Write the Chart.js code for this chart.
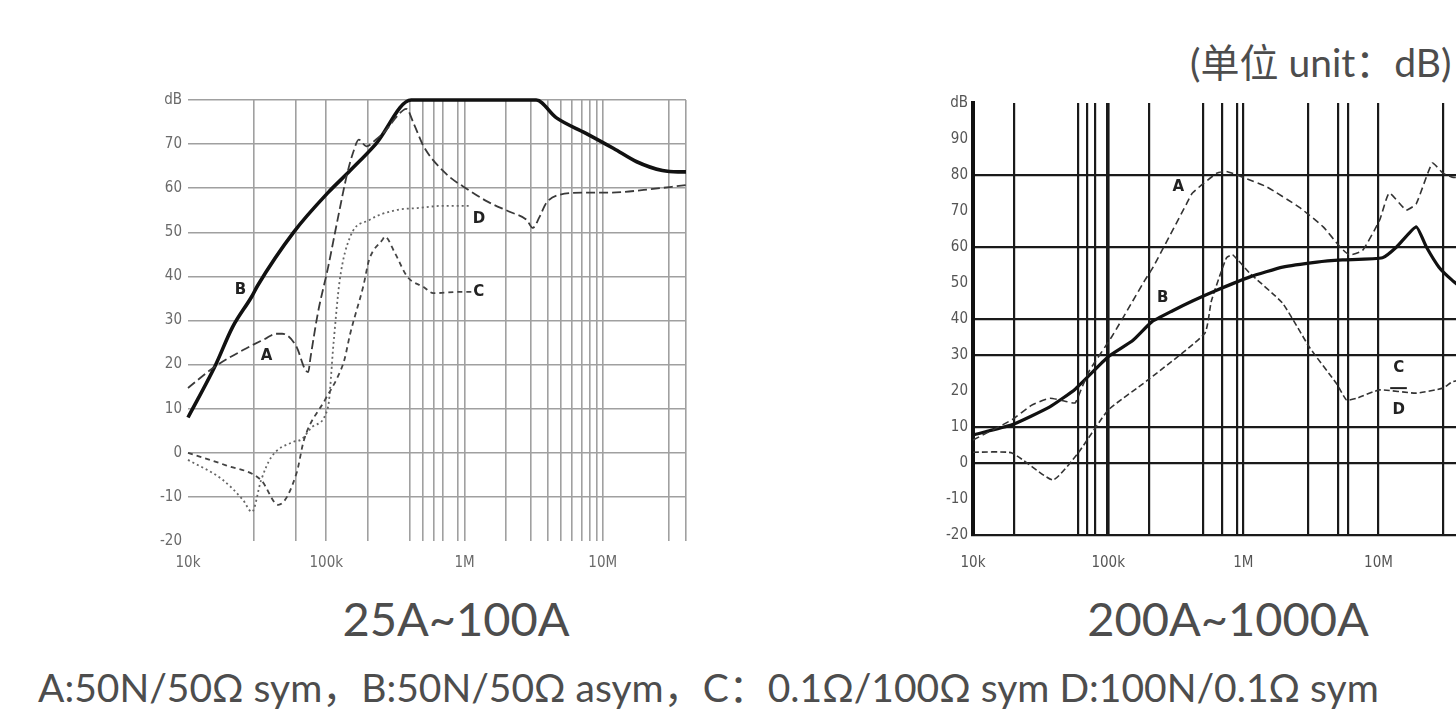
<!DOCTYPE html>
<html>
<head>
<meta charset="utf-8">
<script src="https://cdn.jsdelivr.net/npm/chart.js@4.4.1/dist/chart.umd.min.js"></script>
<style>
  body { margin: 0; width: 1456px; height: 710px; overflow: hidden; background: #fff; position: relative; }
  .txt { position: absolute; font-family: Lato, "Noto Sans CJK SC", sans-serif; color: #4d4d4d; line-height: 1; white-space: nowrap; }
  canvas { position: absolute; }
</style>
</head>
<body>
<div class="txt" style="left:1190px; top:43px; font-size:39px;">(单位 unit：dB)</div>
<div class="txt" style="left:256px; width:400px; top:595px; font-size:47px; text-align:center;">25A~100A</div>
<div class="txt" style="left:1028px; width:400px; top:595px; font-size:47px; text-align:center;">200A~1000A</div>
<div class="txt" style="left:38px; top:668px; font-size:39px;">A:50N/50Ω sym，B:50N/50Ω asym，C：0.1Ω/100Ω sym D:100N/0.1Ω sym</div>

<canvas id="leftChart" width="570" height="500" style="left:130px; top:85px;"></canvas>
<canvas id="rightChart" width="583" height="500" style="left:900px; top:88px;"></canvas>

<script>
// frequency axis (Hz) and labels
var xTickLabels = { 10000: "10k", 100000: "100k", 1000000: "1M", 10000000: "10M" };
var leftXTicks = [1e4, 3e4, 6e4, 1e5, 2e5, 4e5, 5e5, 6e5, 7e5, 9e5, 1e6, 2e6, 3e6, 4e6, 5e6, 6e6, 7e6, 8e6, 9e6, 1e7, 3e7, 4e7];
var rightXTicks = [1e4, 2e4, 6e4, 7e4, 8e4, 1e5, 2e5, 5e5, 7e5, 9e5, 1e6, 3e6, 5e6, 6e6, 1e7, 3e7];
var rightGridRows = [80, 60, 40, 30, 10, 0, -20];

// 25A~100A
var leftAFreq = [1e4, 15.6e3, 25e3, 37e3, 43e3, 48e3, 61e3, 70e3, 74e3, 77e3, 87e3, 103e3, 121e3, 142e3, 158e3, 172e3, 195e3, 228e3, 268e3, 329e3, 379e3, 431e3, 506e3, 728e3, 1.07e6, 1.48e6, 2.14e6, 2.82e6, 3.11e6, 3.49e6, 3.9e6, 4.82e6, 7.5e6, 11.4e6, 19.8e6, 4e7];
var leftAValues = [14.7, 19.5, 23.3, 26, 27, 27, 24, 19, 18.3, 21.7, 31.7, 42, 53, 63.4, 68.5, 71, 69.5, 71, 73, 76.5, 78, 74.5, 69.5, 63.4, 59.6, 56.9, 54.6, 52.8, 51, 53.5, 56.6, 58.5, 59, 59, 59.6, 60.7];
var leftBFreq = [1e4, 15.6e3, 21e3, 29e3, 32e3, 58e3, 103e3, 149e3, 228e3, 411e3, 3.3e6, 4.6e6, 7.5e6, 12e6, 17.6e6, 27e6, 35e6, 4e7];
var leftBValues = [8, 19.5, 28.5, 35.5, 38, 50, 59, 64, 70, 80, 80, 76, 72.5, 69, 66, 64, 63.7, 63.7];
var leftCFreq = [1e4, 18.6e3, 33.8e3, 45e3, 61e3, 69e3, 98e3, 121e3, 135e3, 149e3, 186e3, 204e3, 255e3, 265e3, 314e3, 386e3, 506e3, 593e3, 955e3, 1.12e6];
var leftCValues = [0, -2.8, -6.2, -11.8, -4.6, 2.9, 12, 17.2, 21, 27, 38, 43.7, 48.3, 49, 45.3, 39.9, 37.6, 36.2, 36.5, 36.5];
var leftDFreq = [1e4, 17.6e3, 25e3, 29e3, 33.8e3, 40e3, 58e3, 66e3, 80e3, 103e3, 113e3, 125e3, 149e3, 205e3, 315e3, 455e3, 700e3, 1.1e6];
var leftDValues = [-1.6, -6, -10.7, -13.4, -6.2, -1, 2.5, 3, 6, 10.4, 25, 39, 49, 52.8, 55, 55.5, 56, 56];

// 200A~1000A
var rightAFreq = [1e4, 19.4e3, 27e3, 37e3, 50e3, 57e3, 64e3, 73e3, 106e3, 152e3, 187e3, 215e3, 380e3, 420e3, 635e3, 750e3, 990e3, 1.49e6, 2.6e6, 3.9e6, 5.2e6, 6.1e6, 7.6e6, 10.2e6, 12e6, 16e6, 19e6, 25e6, 30e6, 35e6, 5e7];
var rightAValues = [6.4, 12, 16, 18, 17, 16.7, 21, 25.8, 35, 45, 50.8, 54.4, 72, 75, 80.5, 81, 79.4, 76.7, 71, 65.6, 60, 57.8, 59, 67.5, 75, 70.3, 72, 83.3, 80.5, 79.4, 79];
var rightBFreq = [1e4, 19.4e3, 37e3, 57e3, 100e3, 152e3, 210e3, 300e3, 420e3, 635e3, 1.12e6, 1.95e6, 3.5e6, 5.4e6, 10.7e6, 13.6e6, 19e6, 22.6e6, 28e6, 35e6, 5e7];
var rightBValues = [7.8, 10.6, 15.6, 20.5, 29.5, 34, 39.2, 42.3, 45, 48, 51.7, 54.4, 55.8, 56.4, 57, 60, 65.6, 60, 54.4, 50.8, 46];
var rightCDFreq = [1e4, 19.4e3, 39e3, 60e3, 100e3, 196e3, 518e3, 580e3, 750e3, 835e3, 1.11e6, 1.95e6, 3.1e6, 4.9e6, 5.8e6, 6.9e6, 10.2e6, 19e6, 30e6, 35e6, 5e7];
var rightCDValues = [3, 2.8, -4.7, 2.8, 14.7, 23, 36, 45, 57, 57.8, 52.8, 44.4, 32, 22, 17.5, 18, 20.3, 19.4, 20.8, 22.5, 24];

// curve letters: [text, freq, dB]
var leftTags = [["A", 37e3, 22], ["B", 24e3, 37], ["C", 1.27e6, 36.5], ["D", 1.27e6, 53]];
var rightTags = [["A", 330e3, 76.5], ["B", 253e3, 45.8], ["C", 14.1e6, 26.4], ["D", 14.1e6, 14.7]];

var tickFont = { family: "'Liberation Sans Narrow', 'DejaVu Sans Condensed', 'Liberation Sans', sans-serif", size: 15 };

function points(freq, values) {
    var out = [];
    for (var i = 0; i < freq.length; i++) {
        out.push({ x: freq[i], y: values[i] });
    }
    return out;
}

function tagPlugin(tags, rule) {
    return {
        id: "curveTags",
        afterDatasetsDraw: function (chart) {
            var ctx = chart.ctx;
            var sx = chart.scales.x, sy = chart.scales.y;
            ctx.save();
            ctx.font = "bold 15px 'DejaVu Sans'";
            ctx.fillStyle = "#222";
            ctx.textAlign = "center";
            ctx.textBaseline = "middle";
            tags.forEach(function (t) {
                ctx.fillText(t[0], sx.getPixelForValue(t[1]), sy.getPixelForValue(t[2]));
            });
            if (rule) {
                // little bar between C and D
                ctx.strokeStyle = "#222";
                ctx.lineWidth = 2;
                ctx.beginPath();
                ctx.moveTo(sx.getPixelForValue(rule[0]), sy.getPixelForValue(rule[2]));
                ctx.lineTo(sx.getPixelForValue(rule[1]), sy.getPixelForValue(rule[2]));
                ctx.stroke();
            }
            ctx.restore();
        }
    };
}

var left = new Chart(document.getElementById("leftChart").getContext("2d"), {
    type: "line",
    data: {
        datasets: [
            { label: "A", data: points(leftAFreq, leftAValues), borderColor: "#3a3a3a", borderWidth: 1.8, borderDash: [9, 4] },
            { label: "B", data: points(leftBFreq, leftBValues), borderColor: "#111", borderWidth: 3.6 },
            { label: "C", data: points(leftCFreq, leftCValues), borderColor: "#444", borderWidth: 1.8, borderDash: [5, 4] },
            { label: "D", data: points(leftDFreq, leftDValues), borderColor: "#666", borderWidth: 1.8, borderDash: [2, 3] }
        ]
    },
    options: {
        responsive: false,
        animation: false,
        layout: { padding: { top: 15, right: 14, bottom: 0, left: 0 } },
        elements: { point: { radius: 0 }, line: { cubicInterpolationMode: "monotone" } },
        datasets: { line: { clip: 8 } },
        scales: {
            x: {
                type: "logarithmic", min: 1e4, max: 4e7,
                afterBuildTicks: function (scale) { scale.ticks = leftXTicks.map(function (v) { return { value: v }; }); },
                afterFit: function (scale) { scale.height = 44; },
                ticks: { autoSkip: false, maxRotation: 0, padding: 13, color: "#6a6a6a", font: tickFont,
                    callback: function (v) { return xTickLabels[v] || ""; } },
                grid: { drawTicks: false, lineWidth: 1.6, color: function (c) { return c.tick && c.tick.value === 1e4 ? "rgba(0,0,0,0)" : "#a0a0a0"; } },
                border: { display: false }
            },
            y: {
                min: -20, max: 80,
                afterFit: function (scale) { scale.width = 58; },
                ticks: { stepSize: 10, autoSkip: false, padding: 6, color: "#6a6a6a", font: tickFont,
                    callback: function (v) { return v === 80 ? "dB" : v; } },
                grid: { drawTicks: false, lineWidth: 1.6, color: function (c) { return c.tick && c.tick.value === -20 ? "rgba(0,0,0,0)" : "#a0a0a0"; } },
                border: { display: false }
            }
        },
        plugins: { legend: { display: false }, tooltip: { enabled: false } }
    },
    plugins: [tagPlugin(leftTags)]
});

var right = new Chart(document.getElementById("rightChart").getContext("2d"), {
    type: "line",
    data: {
        datasets: [
            { label: "A", data: points(rightAFreq, rightAValues), borderColor: "#333", borderWidth: 1.6, borderDash: [7, 4] },
            { label: "B", data: points(rightBFreq, rightBValues), borderColor: "#111", borderWidth: 3.2 },
            { label: "C, D", data: points(rightCDFreq, rightCDValues), borderColor: "#333", borderWidth: 1.6, borderDash: [6, 3] }
        ]
    },
    options: {
        responsive: false,
        animation: false,
        layout: { padding: { top: 15, right: 10, bottom: 0, left: 0 } },
        elements: { point: { radius: 0 }, line: { tension: 0.15 } },
        datasets: { line: { clip: 8 } },
        scales: {
            x: {
                type: "logarithmic", min: 1e4, max: 5e7,
                afterBuildTicks: function (scale) { scale.ticks = rightXTicks.map(function (v) { return { value: v }; }); },
                afterFit: function (scale) { scale.height = 53; },
                ticks: { autoSkip: false, maxRotation: 0, padding: 19, color: "#555", font: tickFont,
                    callback: function (v) { return xTickLabels[v] || ""; } },
                grid: { drawTicks: false, color: "#1a1a1a",
                    lineWidth: function (c) { var v = c.tick && c.tick.value; return v === 1e4 ? 4 : (v === 1e5 ? 3.6 : 2.2); } },
                border: { display: false }
            },
            y: {
                min: -20, max: 100,
                afterFit: function (scale) { scale.width = 73; },
                ticks: { stepSize: 10, autoSkip: false, padding: 5, color: "#555", font: tickFont,
                    callback: function (v) { return v === 100 ? "dB" : v; } },
                grid: { drawTicks: false, lineWidth: 2.2,
                    color: function (c) { return c.tick && rightGridRows.indexOf(c.tick.value) >= 0 ? "#1a1a1a" : "rgba(0,0,0,0)"; } },
                border: { display: true, color: "#111", width: 4 }
            }
        },
        plugins: { legend: { display: false }, tooltip: { enabled: false } }
    },
    plugins: [tagPlugin(rightTags, [12.2e6, 16.2e6, 20.8])]
});
</script>
</body>
</html>
